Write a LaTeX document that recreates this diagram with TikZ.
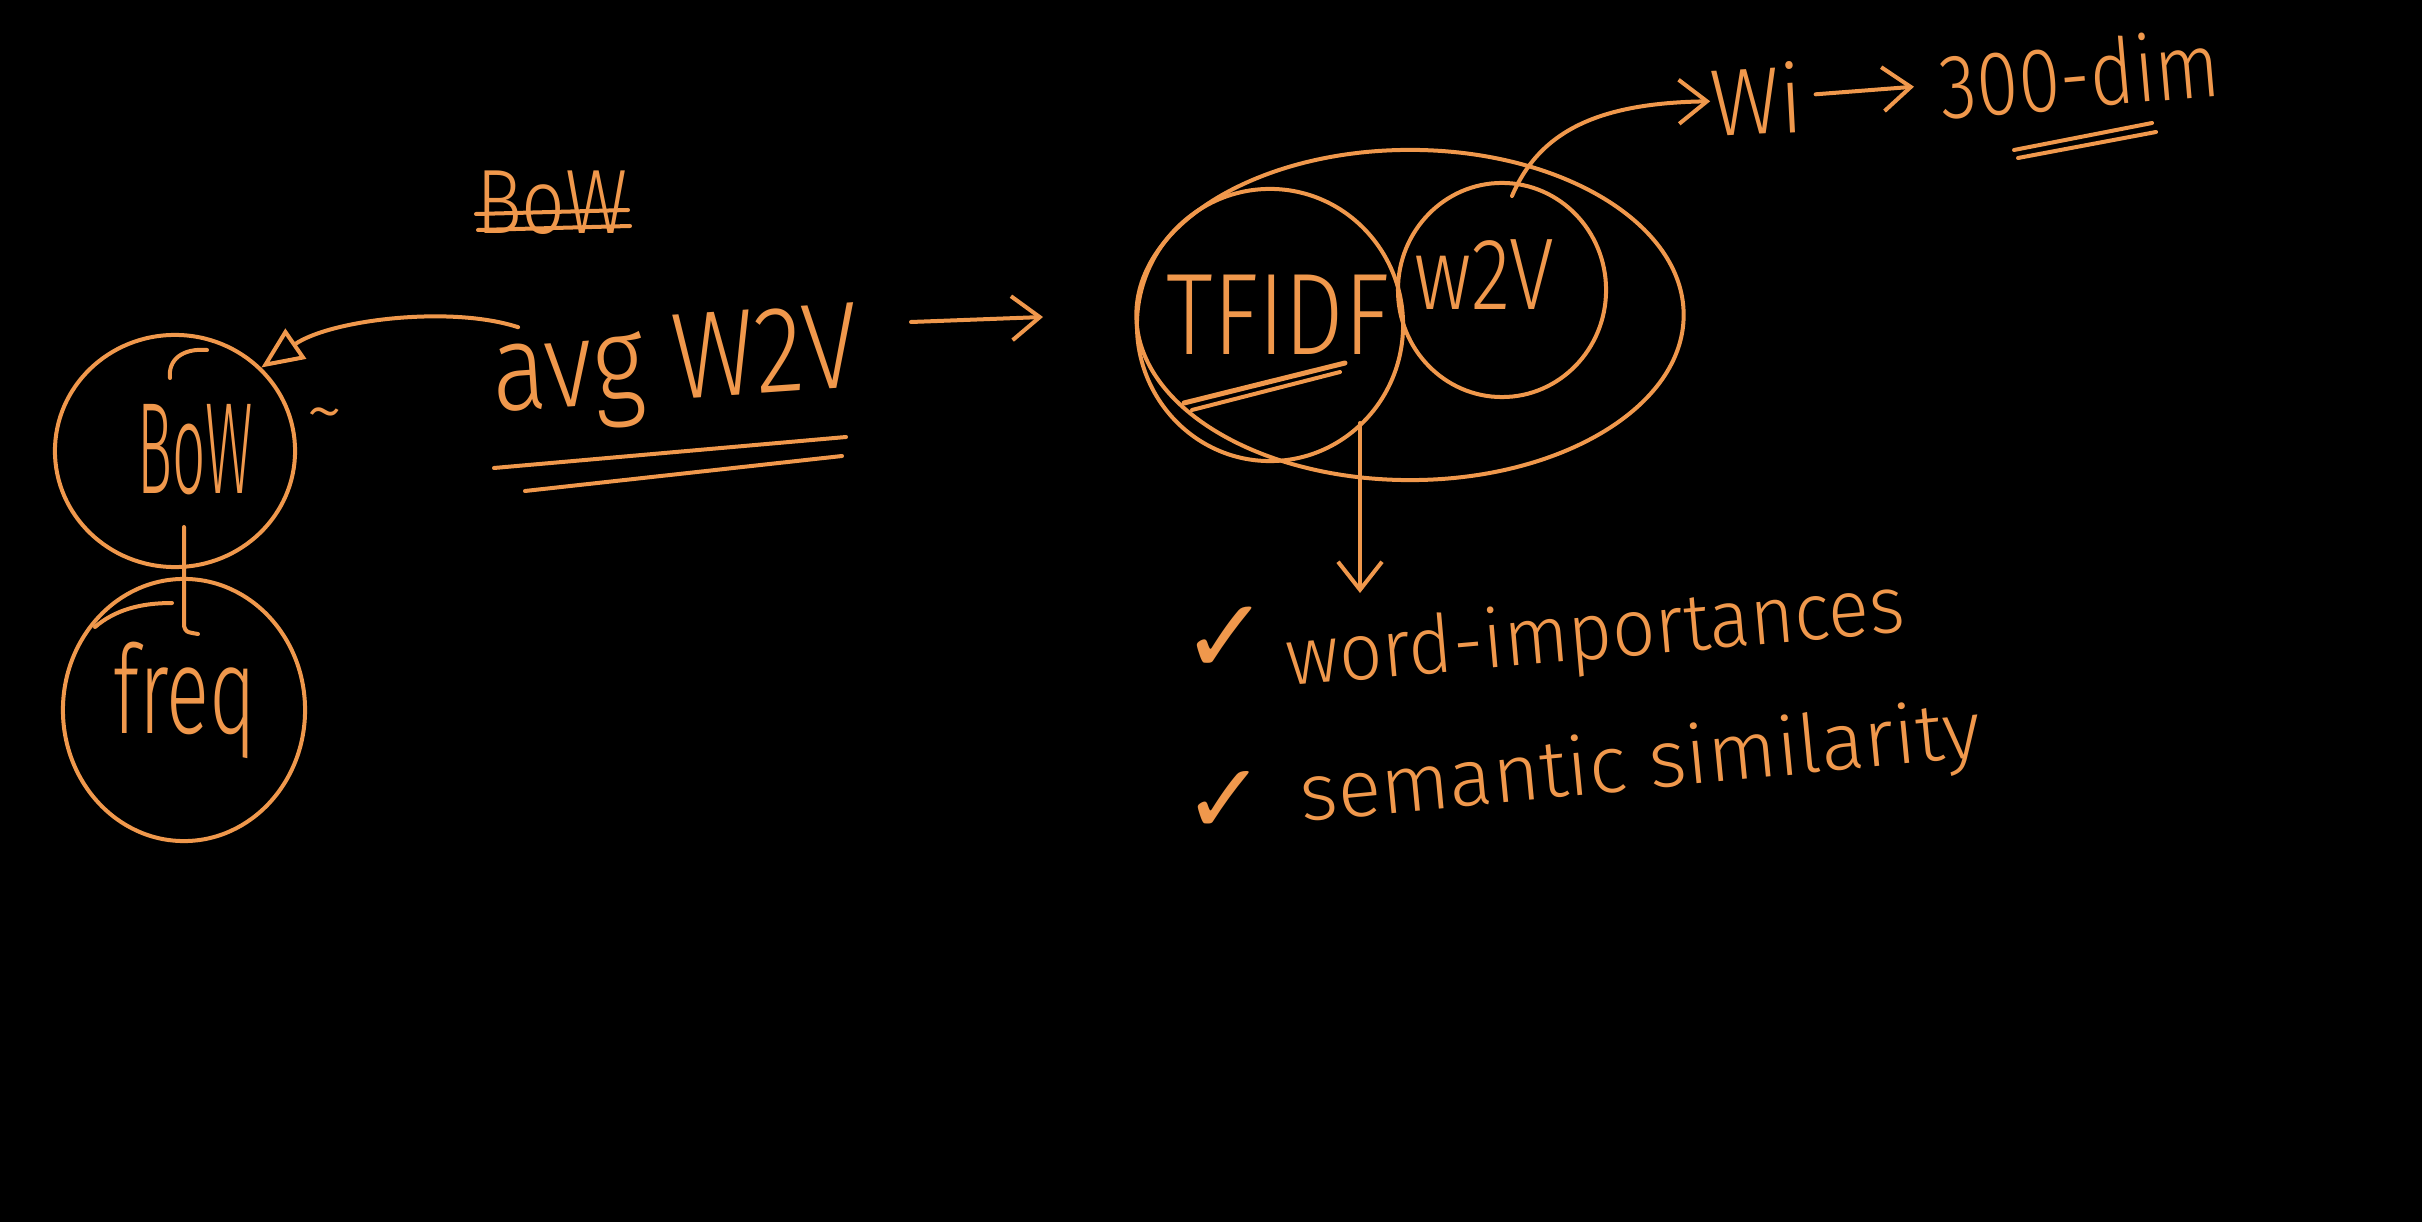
\documentclass[tikz,border=0pt]{standalone}
\usepackage{fontspec}
\setmainfont{Fira Sans Light}
\newfontfamily\symfont{DejaVu Sans}
\usetikzlibrary{arrows.meta,shapes.geometric}
\definecolor{inkc}{RGB}{240,152,76}
\newcommand{\hw}[2]{\scalebox{#1}[1]{#2}}
\newcommand{\fs}[1]{\fontsize{#1}{#1}\selectfont}
\begin{document}
\begin{tikzpicture}[x=0.01cm,y=-0.01cm,
  ink/.style={draw=inkc,line width=0.04cm,line cap=round,line join=round},
  circ/.style={ellipse,draw=inkc,line width=0.04cm,inner sep=0pt},
  txt/.style={text=inkc,inner sep=0pt},
  barb/.style={-{Straight Barb[length=0.28cm,width=0.44cm]}}]
\fill[black] (0,0) rectangle (2422,1222);
\useasboundingbox (0,0) rectangle (2422,1222);

% left part
\node[circ,minimum width=2.40cm,minimum height=2.32cm] (bowc) at (175,451) {};
\node[txt,font=\fs{37}] (bowt) at (195,450) {\hw{0.45}{BoW}};
\node[circ,minimum width=2.42cm,minimum height=2.62cm] (freqc) at (184,710) {};
\node[txt,font=\fs{35}] (freqt) at (185,700) {\hw{0.65}{freq}};
\node[txt,font=\fs{22}] (tilde) at (325,422) {\textasciitilde};
\draw[ink] (170,378) .. controls (168,360) and (182,348) .. (207,350);
\coordinate (l1) at (184,527);
\coordinate (l2) at (198,634);
\draw[ink] (l1) -- (184,626) .. controls (186,632) .. (l2);
\draw[ink] (95,627) .. controls (115,610) and (140,603) .. (172,603);

\node[txt,font=\fs{26}] (bows) at (552,203) {\hw{0.84}{BoW}};
\draw[ink] (476,214) -- (628,210);
\draw[ink] (478,230) -- (630,226);

\node[txt,font=\fs{35},anchor=base west,rotate=4] (avg) at (494,412) {\hw{0.83}{avg W2V}};
\draw[ink] (494,468) -- (846,437);
\draw[ink] (525,491) -- (842,456);
\draw[ink,-{Triangle[open,length=0.42cm,width=0.36cm]}] ([xshift=0.3cm]avg.north west) .. controls (450,305) and (330,320) .. (bowc.north east);
\coordinate (r1) at (911,322);
\coordinate (r2) at (1043,317);
\draw[ink,barb] (r1) -- (r2);

% right part
\node[circ,minimum width=2.66cm,minimum height=2.72cm] (tfc) at (1270,325) {};
\node[circ,minimum width=2.08cm,minimum height=2.14cm] (w2c) at (1502,290) {};
\node[circ,minimum width=5.47cm,minimum height=3.30cm] (outer) at (1410,315) {};
\node[txt,font=\fs{33}] (tft) at (1278,315) {\hw{0.81}{TFIDF}};
\node[txt,font=\fs{29}] (w2t) at (1484,275) {\hw{0.8}{w2V}};
\draw[ink,line width=0.05cm] (1184,403) -- (1345,363);
\draw[ink] (1192,410) -- (1340,372);

\node[txt,font=\fs{27},anchor=base west,rotate=3] (wi) at (1712,137) {\hw{0.9}{Wi}};
\node[txt,font=\fs{26},anchor=base west,rotate=5] (dim) at (1942,120) {\hw{0.83}{300-dim}};
\draw[ink,barb] ([shift={(10,15)}]w2c.north) .. controls (1540,130) and (1600,103) .. (wi.west);
\draw[ink,barb,shorten <=0.12cm,shorten >=0.25cm] (wi) -- (dim);
\draw[ink] (2014,150) -- (2152,123);
\draw[ink] (2018,158) -- (2156,132);

\coordinate (d1) at (1360,423);
\coordinate (d2) at (1360,593);
\draw[ink,barb] (d1) -- (d2);

\node[txt,font=\symfont\fs{30}] (ck1) at (1226,640) {✓};
\node[txt,font=\symfont\fs{28}] (ck2) at (1225,802) {✓};
\node[txt,font=\fs{23},anchor=base west,rotate=5] (wimp) at (1288,686) {\hw{0.94}{word-importances}};
\node[txt,font=\fs{23},anchor=base west,rotate=5.5] (sem) at (1302,822) {semantic similarity};
\end{tikzpicture}
\end{document}
